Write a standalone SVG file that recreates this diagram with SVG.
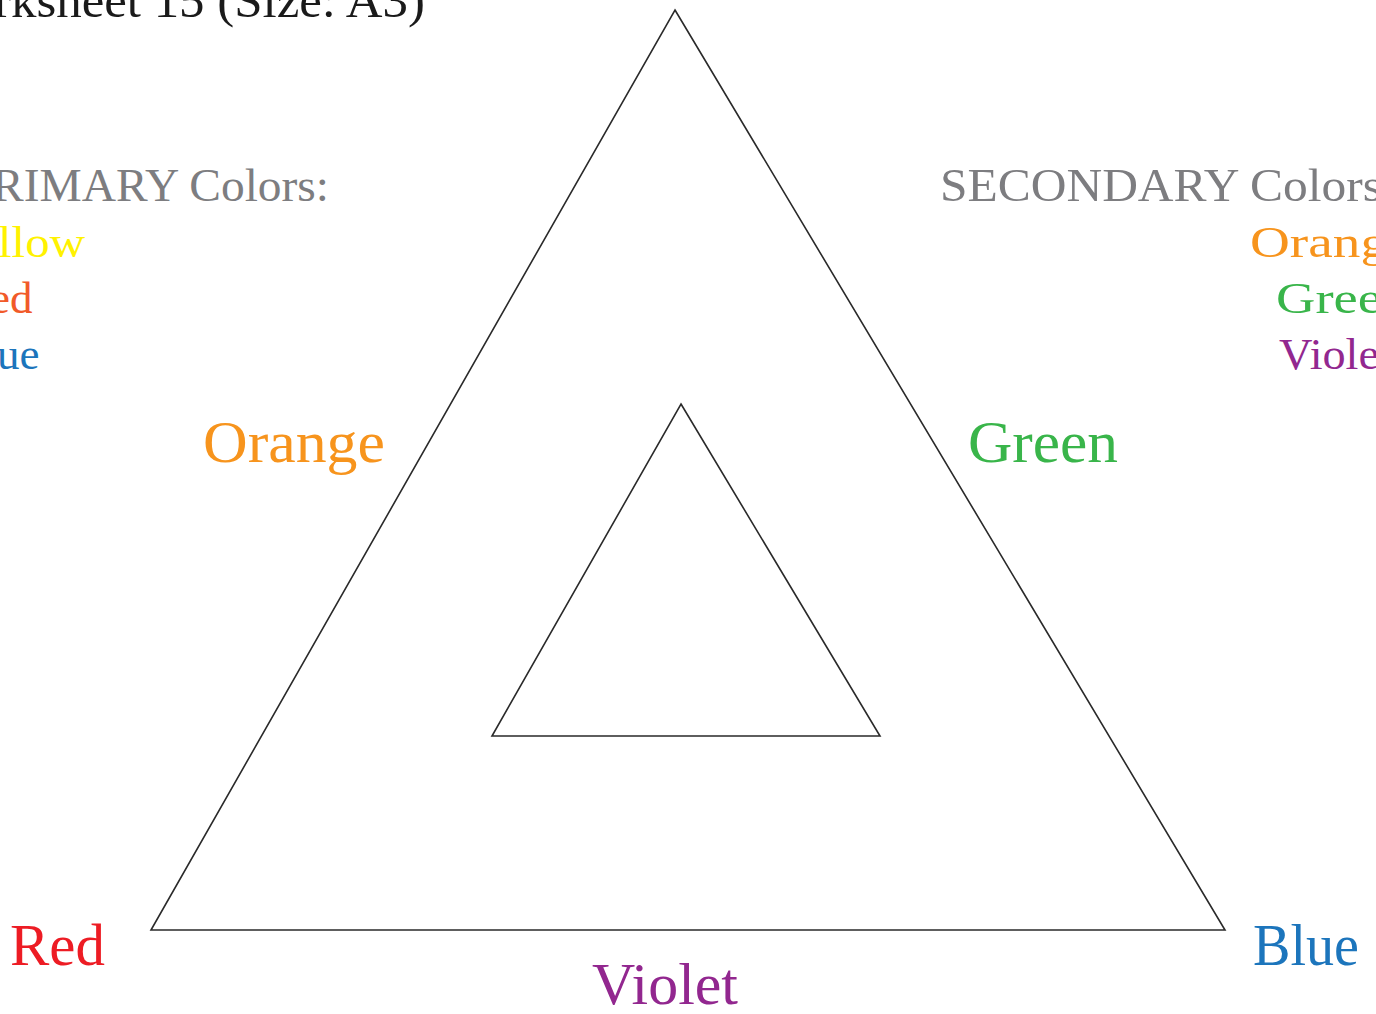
<svg xmlns="http://www.w3.org/2000/svg" width="1376" height="1014" viewBox="0 0 1376 1014">
<style>
text{font-family:"Liberation Serif","DejaVu Serif",serif;}
.tri{fill:none;stroke:#2a2a2a;stroke-width:1.6;stroke-linejoin:miter;}
.hdr{fill:#7d7d80;font-size:47px;}
.lst{font-size:45px;}
.lbl{font-size:59px;}
</style>
<rect width="1376" height="1014" fill="#ffffff"/>
<g id="title"><text x="-6" y="17" font-size="49" fill="#1a1a1a" textLength="431" lengthAdjust="spacingAndGlyphs">rksheet 15 (Size: A3)</text></g>
<g id="primary-list">
<text class="hdr" x="-8" y="201" textLength="337" lengthAdjust="spacingAndGlyphs">RIMARY Colors:</text>
<text class="lst" x="-2" y="257" fill="#fff200" textLength="87" lengthAdjust="spacingAndGlyphs">llow</text>
<text class="lst" x="-10" y="313" fill="#f15a29">ed</text>
<text class="lst" x="-3" y="369" fill="#1c75bc">ue</text>
</g>
<g id="secondary-list">
<text class="hdr" x="940" y="201" textLength="442" lengthAdjust="spacingAndGlyphs">SECONDARY Colors</text>
<text class="lst" x="1250" y="257" fill="#f7941d" textLength="138" lengthAdjust="spacingAndGlyphs">Orang</text>
<text class="lst" x="1276" y="313" fill="#39b54a" textLength="106" lengthAdjust="spacingAndGlyphs">Gree</text>
<text class="lst" x="1279" y="369" fill="#92278f" textLength="100" lengthAdjust="spacingAndGlyphs">Viole</text>
</g>
<g id="connectors">
<polygon id="outer-triangle" class="tri" points="675,10 1225,930 151,930"/>
<polygon id="inner-triangle" class="tri" points="681,404 880,736 492,736"/>
</g>
<g id="label-orange"><text class="lbl" x="203" y="462" fill="#f7941d" textLength="182" lengthAdjust="spacingAndGlyphs">Orange</text></g>
<g id="label-green"><text class="lbl" x="968" y="462" fill="#39b54a" textLength="150" lengthAdjust="spacingAndGlyphs">Green</text></g>
<g id="label-red"><text class="lbl" x="10" y="965" fill="#ed1c24" textLength="95" lengthAdjust="spacingAndGlyphs">Red</text></g>
<g id="label-blue"><text class="lbl" x="1253" y="965" fill="#1c75bc" textLength="106" lengthAdjust="spacingAndGlyphs">Blue</text></g>
<g id="label-violet"><text class="lbl" x="592" y="1004" fill="#92278f" textLength="146" lengthAdjust="spacingAndGlyphs">Violet</text></g>
</svg>
